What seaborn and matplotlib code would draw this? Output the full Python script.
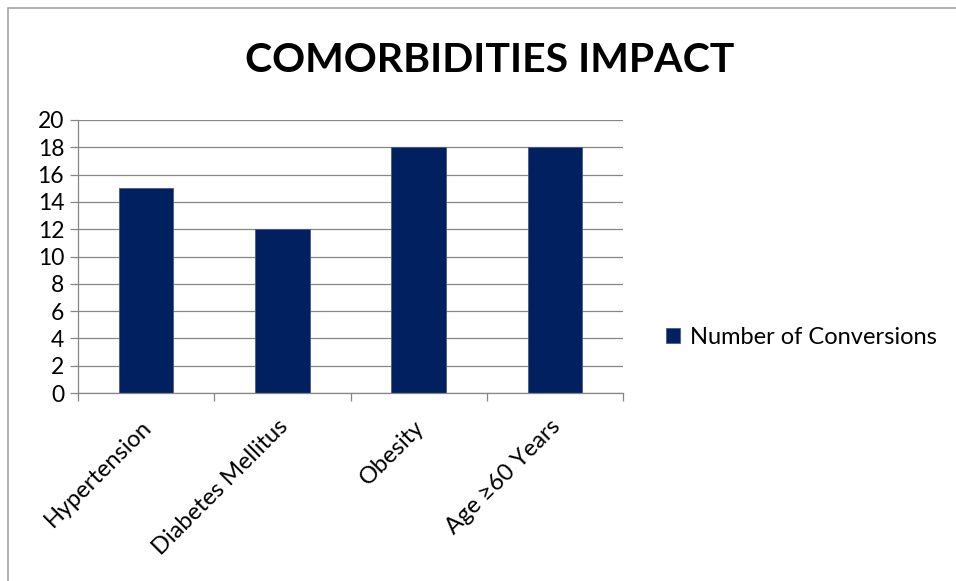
import matplotlib
matplotlib.use("Agg")
import matplotlib.pyplot as plt
import matplotlib.transforms as mtransforms
import seaborn as sns
import pandas as pd
from matplotlib.patches import Rectangle
from matplotlib.ticker import FixedLocator

categories = ["Hypertension", "Diabetes Mellitus", "Obesity", "Age \u226560 Years"]
values = [15, 12, 18, 18]
series_name = "Number of Conversions"
yticks = [0, 2, 4, 6, 8, 10, 12, 14, 16, 18, 20]

sns.set_theme(style="white")
plt.rcParams['font.family'] = ['Lato', 'DejaVu Sans']

df = pd.DataFrame({"Category": categories, "Value": values, "Series": series_name})

fig = plt.figure(figsize=(9.56, 5.81), dpi=100)
ax = fig.add_axes([78/956, 1-393/581, (623-78)/956, (393-120)/581])

bar_color = "#002060"
sns.barplot(data=df, x="Category", y="Value", hue="Series", palette=[bar_color],
            width=0.4, ax=ax, saturation=1, legend=True)

ax.set_ylim(0, 20)
ax.set_xlim(-0.5, 3.5)
ax.set_yticks(yticks)
ax.set_yticklabels([str(v) for v in yticks], fontsize=16.5, color="#000000")
ax.yaxis.grid(True, color="#868686", linewidth=0.9)
ax.set_axisbelow(True)
ax.set_xlabel("")
ax.set_ylabel("")

for s in ["top", "right"]:
    ax.spines[s].set_visible(False)
for s in ["left", "bottom"]:
    ax.spines[s].set_color("#868686")
    ax.spines[s].set_linewidth(0.9)

ax.tick_params(axis="y", which="major", length=6, width=0.9, color="#868686", pad=4, left=True)
ax.set_xticks(range(len(categories)))
ax.set_xticklabels(categories, rotation=45, ha="right", rotation_mode="anchor", fontsize=17, color="#000000")
ax.tick_params(axis="x", which="major", length=0, pad=16)
ax.xaxis.set_minor_locator(FixedLocator([-0.5, 0.5, 1.5, 2.5, 3.5]))
ax.tick_params(axis="x", which="minor", length=6, width=0.9, color="#868686", bottom=True)
offset = mtransforms.ScaledTranslation(-5/100, -1/100, fig.dpi_scale_trans)
for lab in ax.get_xticklabels():
    lab.set_transform(lab.get_transform() + offset)

for p in ax.patches:
    p.set_edgecolor("#4a5a85")
    p.set_linewidth(0.6)

leg = ax.legend(loc="center left", bbox_to_anchor=(666/956, 1-337/581), bbox_transform=fig.transFigure,
                frameon=False, fontsize=17, handlelength=0.6, handleheight=0.6, handletextpad=0.4,
                borderpad=0, borderaxespad=0)
for t in leg.get_texts():
    t.set_color("#000000")

fig.text(490/956, 1-61/581, "COMORBIDITIES IMPACT", ha="center", va="center",
         fontsize=29.5, fontweight="bold", color="#000000")

fig.patches.append(Rectangle((8/956, -0.1), 1.2, 1.1 - 8/581, transform=fig.transFigure,
                             fill=False, edgecolor="#a6a6a6", linewidth=1.2))

fig.savefig("out.png", dpi=100)
